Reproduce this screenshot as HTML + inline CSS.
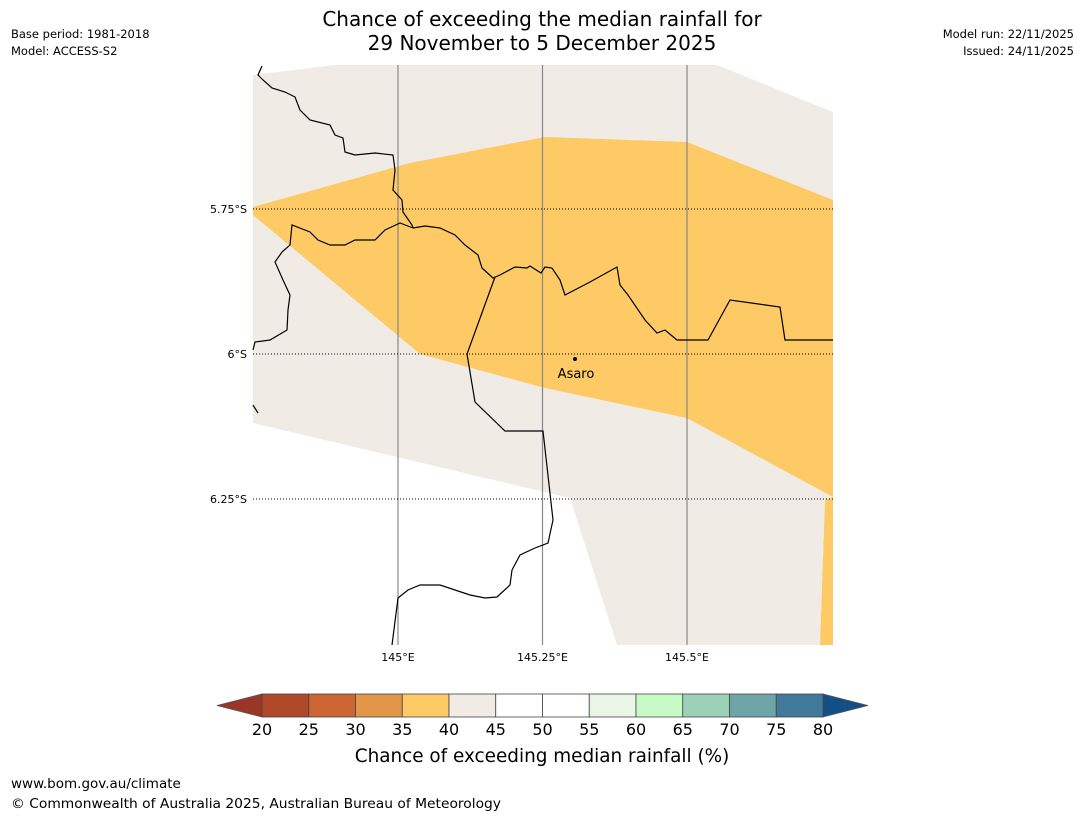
<!DOCTYPE html>
<html><head><meta charset="utf-8"><style>
body{margin:0;background:#fff;font-family:"DejaVu Sans","Liberation Sans",sans-serif}
#wrap{position:relative;width:1085px;height:816px;overflow:hidden}
</style></head><body>
<div id="wrap">
<svg id="svg" width="1085" height="816" xmlns="http://www.w3.org/2000/svg" font-family="DejaVu Sans, Liberation Sans, sans-serif">
<text x="542" y="26" font-size="20" text-anchor="middle">Chance of exceeding the median rainfall for</text>
<text x="542" y="50" font-size="20" text-anchor="middle">29 November to 5 December 2025</text>
<text x="11" y="38" font-size="11.5">Base period: 1981-2018</text>
<text x="11" y="55" font-size="11.5">Model: ACCESS-S2</text>
<text x="1074" y="38" font-size="11.5" text-anchor="end">Model run: 22/11/2025</text>
<text x="1074" y="55" font-size="11.5" text-anchor="end">Issued: 24/11/2025</text>
<g id="map">
<polygon fill="#f0ebe5" points="253,75 335,65 717,65 833,112 833,497 825,500 820,645 617,645 570,498 253,423"/>
<polygon fill="#fdca65" points="253,207 410,163 545,137 687,142 833,200 833,497 687,418 545,388 420,354 253,215"/>
<polygon fill="#fdca65" points="825,500 833,497 833,645 820,645"/>
<g id="grid"></g>
<polyline fill="none" stroke="#000" stroke-width="1.2" points="262,66 258,75 263,80 272,88 285,92 295,97 300,110 310,120 330,125 335,135 343,138 345,152 355,155 375,153 393,155 395,170 393,190 402,200 403,212 412,225 413,228"/>
<polyline fill="none" stroke="#000" stroke-width="1.2" points="413,228 400,223 385,230 375,240 355,240 345,245 330,245 318,240 310,232 292,225 290,245 282,252 275,262 283,280 290,295 288,310 287,330 270,340 255,342 253,350"/>
<polyline fill="none" stroke="#000" stroke-width="1.2" points="413,228 425,226 440,228 455,235 465,245 478,255 482,268 493,278 500,275 515,267 527,268 530,266 541,273 545,267 552,268 560,280 565,295 590,282 617,267 620,285 628,295 645,320 657,333 665,330 677,340 708,340 730,300 780,307 785,340 833,340"/>
<polyline fill="none" stroke="#000" stroke-width="1.2" points="495,277 467,354 475,402 505,431 543,431 553,520 548,543 535,548 520,555 512,570 510,585 497,597 485,598 470,595 455,590 440,585 420,585 408,590 398,598 392,645"/>
<polyline fill="none" stroke="#000" stroke-width="1.2" points="253,405 258,413"/>
<circle cx="575" cy="359" r="2" fill="#000"/>
<text x="576" y="378" font-size="13" text-anchor="middle">Asaro</text>
</g>
<g id="cbar"></g>
<text x="542" y="762" font-size="18.4" text-anchor="middle">Chance of exceeding median rainfall (%)</text>
<text x="11" y="788" font-size="13.5">www.bom.gov.au/climate</text>
<text x="11" y="808" font-size="13.5" textLength="490" lengthAdjust="spacingAndGlyphs">© Commonwealth of Australia 2025, Australian Bureau of Meteorology</text>
</svg>
</div>
<script>
const lonTicks=[145,145.25,145.5];
const lonLabels=["145°E","145.25°E","145.5°E"];
const latTicks=[-5.75,-6,-6.25];
const latLabels=["5.75°S","6°S","6.25°S"];
const cbarLevels=[20,25,30,35,40,45,50,55,60,65,70,75,80];
const cbarColors=["#b0492a","#cd6532","#e2964a","#fdca65","#f0ebe5","#ffffff","#ffffff","#eaf5e8","#c8fac8","#9dd0b9","#6ea5a7","#40799a"];
const cbarUnder="#9b3526", cbarOver="#134f87";
const NS="http://www.w3.org/2000/svg";
const xLon=v=>398+(v-145)*578;
const yLat=v=>209+(-5.75-v)*580;
const xC=v=>262+(v-20)*(823-262)/60;
function mk(t,a,p){const e=document.createElementNS(NS,t);for(const k in a)e.setAttribute(k,a[k]);p.appendChild(e);return e;}
const g=document.getElementById('grid');
lonTicks.forEach((v,i)=>{
 const l=mk('line',{x1:xLon(v),x2:xLon(v),y1:65,y2:645,stroke:'#888','stroke-width':1.2},g);
 
 
 const t=mk('text',{x:xLon(v),y:661,'font-size':11,'text-anchor':'middle'},g);t.textContent=lonLabels[i];
 
 
});
latTicks.forEach((v,i)=>{
 const l=mk('line',{x1:253,x2:833,y1:yLat(v),y2:yLat(v),stroke:'#000','stroke-width':1,'stroke-dasharray':'1,2'},g);
 
 
 const t=mk('text',{x:247,y:yLat(v)+4,'font-size':11,'text-anchor':'end'},g);t.textContent=latLabels[i];
 
 
});
const c=document.getElementById('cbar');
const y0=694,y1=717;
const u=mk('polygon',{points:`${xC(20)},${y0} ${xC(20)},${y1} 217,705.5`,fill:cbarUnder,stroke:'#555','stroke-width':0.8},c);


const o=mk('polygon',{points:`${xC(80)},${y0} ${xC(80)},${y1} 868,705.5`,fill:cbarOver,stroke:'#555','stroke-width':0.8},c);


cbarColors.forEach((col,i)=>{
 const r=mk('rect',{x:xC(cbarLevels[i]),y:y0,width:xC(cbarLevels[i+1])-xC(cbarLevels[i]),height:y1-y0,fill:col,stroke:'#444','stroke-width':0.8},c);
 
 
});
cbarLevels.forEach(v=>{
 const t=mk('text',{x:xC(v),y:735,'font-size':16,'text-anchor':'middle'},c);t.textContent=v;
 
 
});
</script>
</body></html>
